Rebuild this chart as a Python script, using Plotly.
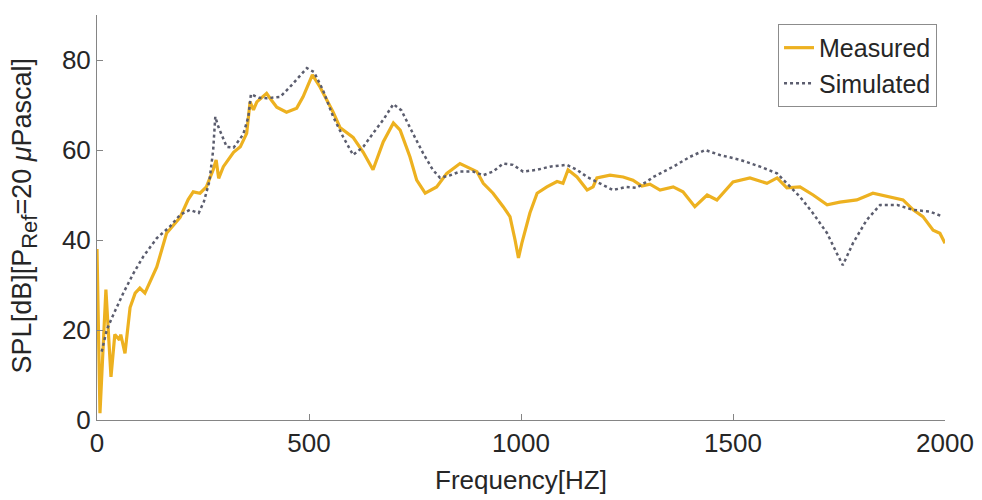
import plotly.graph_objects as go

# Measured SPL response (Hz, dB)
measured_freq = [0, 7, 21, 33, 42, 53, 56, 66, 78, 90, 101, 113, 141, 164, 196, 215,
                 227, 243, 258, 274, 281, 287, 298, 322, 338, 353, 361, 369, 377, 400,
                 408, 424, 447, 471, 486, 508, 526, 542, 557, 573, 590, 604, 628, 651,
                 675, 699, 715, 738, 754, 774, 801, 825, 856, 872, 896, 911, 934, 958,
                 974, 986, 994, 1002, 1021, 1038, 1061, 1085, 1099, 1111, 1132, 1156,
                 1170, 1179, 1210, 1241, 1264, 1285, 1304, 1328, 1359, 1382, 1410, 1439,
                 1462, 1500, 1540, 1580, 1604, 1627, 1658, 1689, 1722, 1752, 1792, 1830,
                 1870, 1901, 1925, 1948, 1972, 1988, 2000]
measured_spl = [38, 1.5, 29, 9.6, 19, 17.8, 19, 14.8, 25, 28.2, 29.3, 28.2, 34, 41.5, 45, 49,
                50.7, 50.4, 51.8, 55.6, 57.8, 53.7, 56.3, 59.5, 60.7, 63.7, 70.7, 68.9, 70.7, 72.6,
                71.5, 69.5, 68.4, 69.3, 71.8, 76.7, 74, 71, 68.4, 65, 63.8, 62.8, 59.5, 55.6,
                61.8, 66, 64.4, 58.5, 53.3, 50.4, 51.8, 54.8, 57, 56.3, 55.2, 52.6, 50.4, 47.4,
                45.2, 40, 36, 39.3, 46, 50.4, 51.8, 53, 52.6, 55.6, 54, 51.1,
                51.8, 53.8, 54.4, 54, 53.3, 52, 52.4, 51.1, 51.8, 50.7, 47.4, 50,
                48.9, 52.9, 53.8, 52.6, 53.8, 51.6, 51.8, 50, 47.8, 48.4, 48.9, 50.4,
                49.6, 48.9, 46.7, 45.2, 42.2, 41.5, 39.3]

# Simulated SPL response (Hz, dB)
simulated_freq = [11, 23, 38, 62, 86, 109, 141, 172, 196, 219, 240, 252, 265, 274, 279, 286,
                  306, 322, 345, 357, 363, 382, 400, 432, 455, 476, 495, 512, 533, 557,
                  580, 604, 628, 651, 675, 699, 718, 745, 769, 792, 809, 833, 856, 887,
                  911, 934, 958, 981, 1005, 1038, 1068, 1108, 1132, 1156, 1186, 1217, 1248,
                  1273, 1297, 1312, 1359, 1399, 1434, 1469, 1517, 1564, 1604, 1627, 1658,
                  1689, 1722, 1745, 1759, 1783, 1815, 1847, 1887, 1925, 1965, 1995]
simulated_spl = [15.2, 20, 23.3, 28.2, 32.6, 36.3, 40.4, 43, 45.6, 46.7, 46, 48.5, 53, 60, 67.4, 65.2,
                 60.7, 60.5, 63.5, 67.4, 72.4, 71.6, 71.5, 71.8, 74, 76.3, 78.2, 77.3, 73.3, 67.4,
                 63, 58.9, 60.7, 63.7, 66.7, 70.2, 68.8, 63.7, 59.3, 55.6, 53.8, 54.4, 55.2, 55.2,
                 54.4, 55.2, 57, 56.7, 55.2, 55.6, 56.3, 56.7, 55.6, 54, 52.6, 51.1, 51.8,
                 51.6, 53, 54, 56.3, 58.5, 60, 58.9, 57.8, 56.3, 54.8, 52.6, 49.6,
                 45.9, 41.5, 37, 34.4, 39.3, 44.4, 47.8, 47.8, 46.7, 46.3, 45.2]

x_ticks = [0, 500, 1000, 1500, 2000]
y_ticks = [0, 20, 40, 60, 80]

FONT = "Liberation Sans, Arial, sans-serif"
TEXT = "#262626"
AXIS = "#858585"

fig = go.Figure()
fig.add_trace(go.Scatter(
    x=measured_freq, y=measured_spl, mode="lines", name="Measured",
    line=dict(color="#EDB120", width=3.2),
))
fig.add_trace(go.Scatter(
    x=simulated_freq, y=simulated_spl, mode="lines", name="Simulated",
    line=dict(color="#5b5d6e", width=2.5, dash="dot"),
))

fig.update_layout(
    template="none",
    width=982, height=500,
    margin=dict(l=97, r=37, t=15, b=80),
    paper_bgcolor="white", plot_bgcolor="white",
    font=dict(family=FONT, size=26, color=TEXT),
    showlegend=True,
    legend=dict(
        x=0.9906, y=0.978, xanchor="right", yanchor="top",
        bordercolor="#8c8c8c", borderwidth=1, bgcolor="white",
        font=dict(family=FONT, size=25, color=TEXT),
        tracegroupgap=0, itemwidth=30,
    ),
    xaxis=dict(
        range=[0, 2000], tickvals=x_ticks, ticktext=[str(v) for v in x_ticks],
        showline=True, linecolor=AXIS, linewidth=1, mirror=False,
        ticks="inside", ticklen=6, tickcolor=AXIS,
        showgrid=False, zeroline=False,
        tickfont=dict(family=FONT, size=26, color=TEXT),
        automargin=False,
    ),
    yaxis=dict(
        range=[0, 90], tickvals=y_ticks, ticktext=[str(v) for v in y_ticks],
        showline=True, linecolor=AXIS, linewidth=1, mirror=False,
        ticks="inside", ticklen=6, tickcolor=AXIS,
        showgrid=False, zeroline=False,
        tickfont=dict(family=FONT, size=26, color=TEXT),
        automargin=False,
    ),
    annotations=[
        dict(
            text="Frequency[HZ]", xref="paper", yref="paper",
            x=0.5, y=-0.148, xanchor="center", yanchor="middle",
            showarrow=False, font=dict(family=FONT, size=26, color=TEXT),
        ),
        dict(
            text="SPL[dB][P<sub><span style='font-size:22px'>Ref</span></sub>=20 <i>μ</i>Pascal]",
            xref="paper", yref="paper",
            x=-0.085, y=0.505, xanchor="center", yanchor="middle", textangle=-90,
            showarrow=False, font=dict(family=FONT, size=27, color=TEXT),
        ),
    ],
)

fig.write_html("out.html")
